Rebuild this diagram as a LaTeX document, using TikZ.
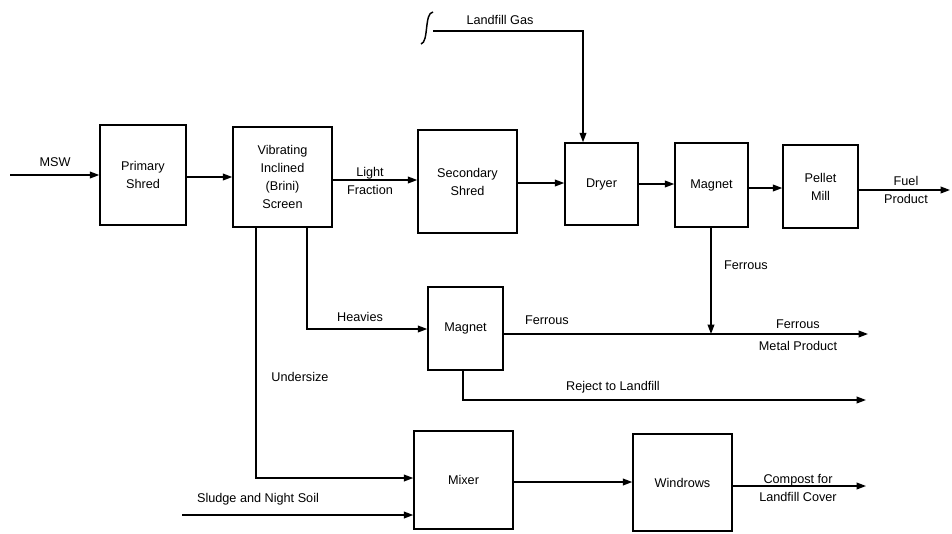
\documentclass[tikz,border=0pt]{standalone}
\usepackage{fontspec}
\setmainfont{Liberation Sans}
\usetikzlibrary{arrows.meta}
\begin{document}
\begin{tikzpicture}[x=0.75pt,y=-0.75pt,
  font=\fontsize{9.5}{13.5}\selectfont,
  line width=1.1pt,
  box/.style 2 args={draw,line width=1.1pt,inner sep=0pt,align=center,
    minimum width=#1*0.75pt,minimum height=#2*0.75pt},
  arr/.style={-{Triangle[length=7pt,width=5pt]}},
  lbl/.style={inner sep=0pt,align=center}]
\useasboundingbox (0,0) rectangle (952,533);
% boxes
\node[box={86}{100}] (ps) at (143,175) {Primary\\Shred};
\node[box={99}{100}] (scr) at (282.5,177) {Vibrating\\Inclined\\(Brini)\\Screen};
\node[box={99}{103}] (ss) at (467.5,181.5) {Secondary\\Shred};
\node[box={73}{82}] (dry) at (601.5,184) {Dryer};
\node[box={73}{84}] (m1) at (711.5,185) {Magnet};
\node[box={75}{83}] (pm) at (820.5,186.5) {Pellet\\Mill};
\node[box={75}{83}] (m2) at (465.5,328.5) {Magnet};
\node[box={99}{98}] (mix) at (463.5,480) {Mixer};
\node[box={99}{97}] (win) at (682.5,482.5) {Windrows};
% free ends
\coordinate (msw) at (10,175);
\coordinate (lg) at (433,31);
\coordinate (fuel) at (950,190);
\coordinate (fe) at (868,334);
\coordinate (rej) at (866,400);
\coordinate (sl) at (182,515);
\coordinate (cmp) at (866,486);
% connectors
\draw[arr] (msw) -- (ps.west |- msw);
\draw[arr] (ps.east |- 0,177) -- (scr.west |- 0,177);
\draw[arr] (scr.east |- 0,180) -- (ss.west |- 0,180);
\draw[arr] (ss.east |- 0,183) -- (dry.west |- 0,183);
\draw[arr] (dry.east |- 0,184) -- (m1.west |- 0,184);
\draw[arr] (m1.east |- 0,188) -- (pm.west |- 0,188);
\draw[arr] (pm.east |- fuel) -- (fuel);
\draw[arr] (lg) -| (dry.north -| 583,0);
\draw (433,12) .. controls (424,13) and (429,42) .. (421,44);
\draw[arr] (m1.south -| 711,0) -- (711,334);
\draw[arr] (m2.east |- fe) -- (fe);
\draw[arr] (scr.south -| 307,0) |- (m2.west |- 0,329);
\draw[arr] (m2.south -| 463,0) |- (rej);
\draw[arr] (scr.south -| 256,0) |- (mix.west |- 0,478);
\draw[arr] (sl) -- (mix.west |- sl);
\draw[arr] (mix.east |- 0,482) -- (win.west |- 0,482);
\draw[arr] (win.east |- cmp) -- (cmp);
% labels
\node[lbl] (tmsw) at (55,162) {MSW};
\node[lbl] (tlg) at (500,20) {Landfill Gas};
\node[lbl] (tlf) at (370,181) {Light\\Fraction};
\node[lbl] (tfp) at (906,190) {Fuel\\Product};
\node[lbl] (tfe1) at (746,265) {Ferrous};
\node[lbl] (thv) at (360,317) {Heavies};
\node[lbl] (tfe2) at (547,320) {Ferrous};
\node[lbl] (tfe3) at (798,335) {Ferrous\\[3pt]Metal Product};
\node[lbl] (tus) at (300,377) {Undersize};
\node[lbl] (trj) at (613,387) {Reject to Landfill};
\node[lbl] (tsl) at (258,499) {Sludge and Night Soil};
\node[lbl] (tcp) at (798,488) {Compost for\\Landfill Cover};
\end{tikzpicture}
\end{document}
